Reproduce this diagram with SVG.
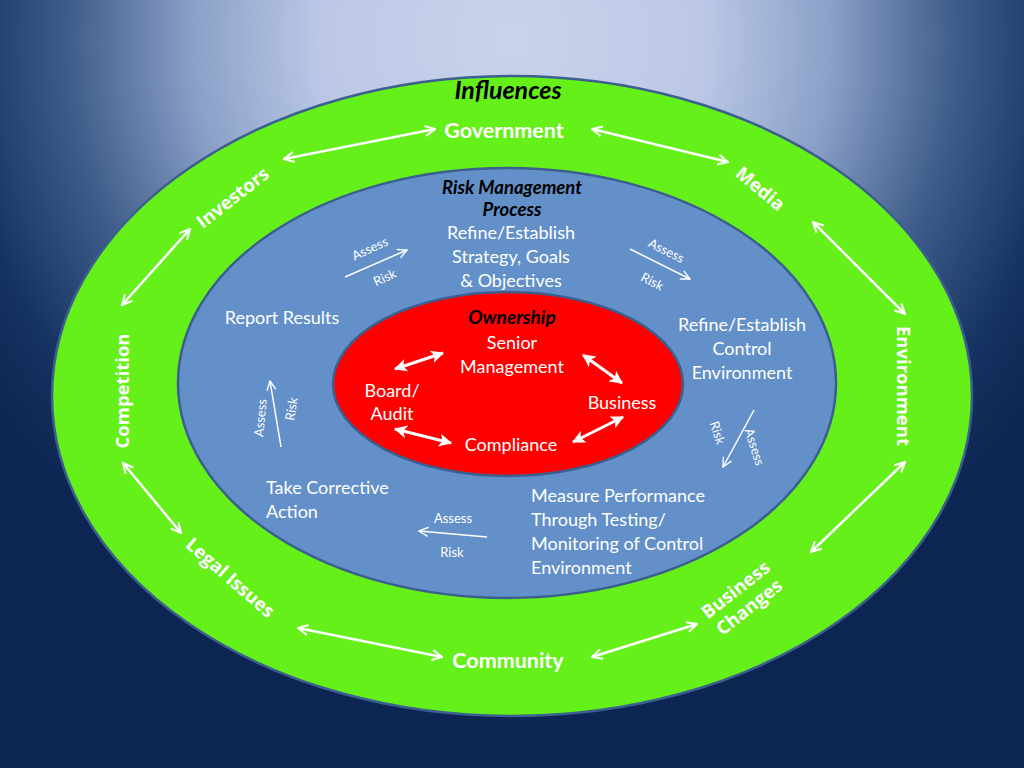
<svg xmlns="http://www.w3.org/2000/svg" width="1024" height="768" viewBox="0 0 1024 768">
<defs>
<radialGradient id="bg" gradientUnits="userSpaceOnUse" cx="512" cy="40" r="640">
<stop offset="0" stop-color="#c9d3ec"/>
<stop offset="0.3" stop-color="#bcc8e6"/>
<stop offset="0.5" stop-color="#8aa0c8"/>
<stop offset="0.7" stop-color="#3d5a88"/>
<stop offset="0.87" stop-color="#163260"/>
<stop offset="1" stop-color="#0d2552"/>
</radialGradient>
<marker id="open" viewBox="0 0 12 12" refX="11" refY="6" markerWidth="12" markerHeight="12" markerUnits="userSpaceOnUse" orient="auto-start-reverse">
<path d="M1,1 L11,6 L1,11" fill="none" stroke="#fff" stroke-width="2"/>
</marker>
<marker id="solid" viewBox="0 0 12 12" refX="11" refY="6" markerWidth="13" markerHeight="13" markerUnits="userSpaceOnUse" orient="auto-start-reverse">
<path d="M0,0 L12,6 L0,12 L3,6 z" fill="#fff"/>
</marker>
<marker id="thin" viewBox="0 0 12 12" refX="11" refY="6" markerWidth="11" markerHeight="11" markerUnits="userSpaceOnUse" orient="auto">
<path d="M1,1 L11,6 L1,11" fill="none" stroke="#fff" stroke-width="1.5"/>
</marker>
</defs>
<style>
.ring{stroke:#3b5f8e;stroke-width:2.5}
.lbl{font-family:Lato,"Open Sans",sans-serif;fill:#fff;text-anchor:middle}
.p{font-size:18px}
.inf{font-family:"Open Sans",Lato,sans-serif;font-weight:bold;fill:#fff;font-size:18.5px;text-anchor:middle}
.infl{font-family:Lato,sans-serif;font-weight:bold;fill:#fff;font-size:21.5px;text-anchor:middle}
.hd{font-family:Lato,sans-serif;font-weight:bold;font-style:italic;fill:#000;text-anchor:middle}
.sm{font-family:Lato,"Open Sans",sans-serif;fill:#fff;font-size:13px;text-anchor:middle}
.ga{fill:none;stroke:#fff;stroke-width:2.5;marker-start:url(#open);marker-end:url(#open)}
.ra{fill:none;stroke:#fff;stroke-width:3;marker-start:url(#solid);marker-end:url(#solid)}
.ta{fill:none;stroke:#fff;stroke-width:1.5;marker-end:url(#thin)}
</style>
<rect width="1024" height="768" fill="url(#bg)"/>
<g id="outer-ring"><ellipse cx="512" cy="396" rx="460" ry="320" fill="#66f01a" class="ring"/></g>
<g id="process-ring"><ellipse cx="507" cy="383" rx="329" ry="215" fill="#6390c8" class="ring"/></g>
<g id="ownership-core"><ellipse cx="508" cy="384" rx="175" ry="92" fill="#ff0000" class="ring"/></g>

<g id="influences-title"><text class="hd" x="508" y="99" font-size="25">Influences</text></g>
<g id="government"><text class="infl" x="504" y="138">Government</text></g>
<g id="media"><text class="inf" transform="translate(760,189) rotate(40)" y="6">Media</text></g>
<g id="environment"><text class="inf" transform="translate(903,386) rotate(90)" y="6">Environment</text></g>
<g id="business-changes"><text class="inf" transform="translate(742,598) rotate(-38)"><tspan x="0" y="-4">Business</tspan><tspan x="0" y="18">Changes</tspan></text></g>
<g id="community"><text class="infl" x="508" y="668">Community</text></g>
<g id="legal-issues"><text class="inf" transform="translate(230,578) rotate(41)" y="6">Legal Issues</text></g>
<g id="competition"><text class="inf" transform="translate(123,391) rotate(-90)" y="6">Competition</text></g>
<g id="investors"><text class="inf" transform="translate(233,198) rotate(-38)" y="6">Investors</text></g>

<g id="rmp-title"><text class="hd" font-size="18.5"><tspan x="512" y="194">Risk Management</tspan><tspan x="512" y="216">Process</tspan></text></g>
<g id="strategy"><text class="lbl p"><tspan x="511" y="239">Refine/Establish</tspan><tspan x="511" y="263">Strategy, Goals</tspan><tspan x="511" y="287">&amp; Objectives</tspan></text></g>
<g id="control-env"><text class="lbl p"><tspan x="742" y="331">Refine/Establish</tspan><tspan x="742" y="355">Control</tspan><tspan x="742" y="379">Environment</tspan></text></g>
<g id="measure"><text class="lbl p" style="text-anchor:start"><tspan x="531" y="502">Measure Performance</tspan><tspan x="531" y="526">Through Testing/</tspan><tspan x="531" y="550">Monitoring of Control</tspan><tspan x="531" y="574">Environment</tspan></text></g>
<g id="corrective"><text class="lbl p" style="text-anchor:start"><tspan x="266" y="494">Take Corrective</tspan><tspan x="266" y="518">Action</tspan></text></g>
<g id="report"><text class="lbl p" x="282" y="324">Report Results</text></g>

<g id="ownership-title"><text class="hd" x="512" y="324" font-size="19">Ownership</text></g>
<g id="senior-mgmt"><text class="lbl p"><tspan x="512" y="349">Senior</tspan><tspan x="512" y="373">Management</tspan></text></g>
<g id="board-audit"><text class="lbl p"><tspan x="392" y="397">Board/</tspan><tspan x="392" y="420">Audit</tspan></text></g>
<g id="business"><text class="lbl p" x="622" y="409">Business</text></g>
<g id="compliance"><text class="lbl p" x="511" y="451">Compliance</text></g>

<g id="risk-labels">
<text class="sm" transform="translate(370,249) rotate(-25)" y="4">Assess</text>
<text class="sm" transform="translate(385,278) rotate(-25)" y="4">Risk</text>
<text class="sm" transform="translate(666,251) rotate(27)" y="4">Assess</text>
<text class="sm" transform="translate(652,282) rotate(27)" y="4">Risk</text>
<text class="sm" transform="translate(717,433) rotate(72)" y="4">Risk</text>
<text class="sm" transform="translate(754,447) rotate(72)" y="4">Assess</text>
<text class="sm" x="453" y="523">Assess</text>
<text class="sm" x="452" y="557">Risk</text>
<text class="sm" transform="translate(261,418) rotate(-85)" y="4">Assess</text>
<text class="sm" transform="translate(292,409) rotate(-80)" y="4">Risk</text>
</g>

<g id="connectors">
<line class="ga" x1="284" y1="159" x2="435" y2="129"/>
<line class="ga" x1="592" y1="129" x2="728" y2="162"/>
<line class="ga" x1="813" y1="222" x2="905" y2="314"/>
<line class="ga" x1="905" y1="462" x2="811" y2="552"/>
<line class="ga" x1="697" y1="624" x2="592" y2="657"/>
<line class="ga" x1="442" y1="657" x2="298" y2="628"/>
<line class="ga" x1="181" y1="533" x2="123" y2="463"/>
<line class="ga" x1="122" y1="305" x2="190" y2="229"/>
<line class="ra" x1="395" y1="369" x2="443" y2="353"/>
<line class="ra" x1="583" y1="355" x2="622" y2="383"/>
<line class="ra" x1="395" y1="429" x2="451" y2="443"/>
<line class="ra" x1="573" y1="442" x2="623" y2="417"/>
<line class="ta" x1="345" y1="277" x2="407" y2="250"/>
<line class="ta" x1="630" y1="249" x2="690" y2="279"/>
<line class="ta" x1="754" y1="410" x2="723" y2="467"/>
<line class="ta" x1="487" y1="537" x2="419" y2="531"/>
<line class="ta" x1="281" y1="447" x2="270" y2="381"/>
</g>
</svg>
